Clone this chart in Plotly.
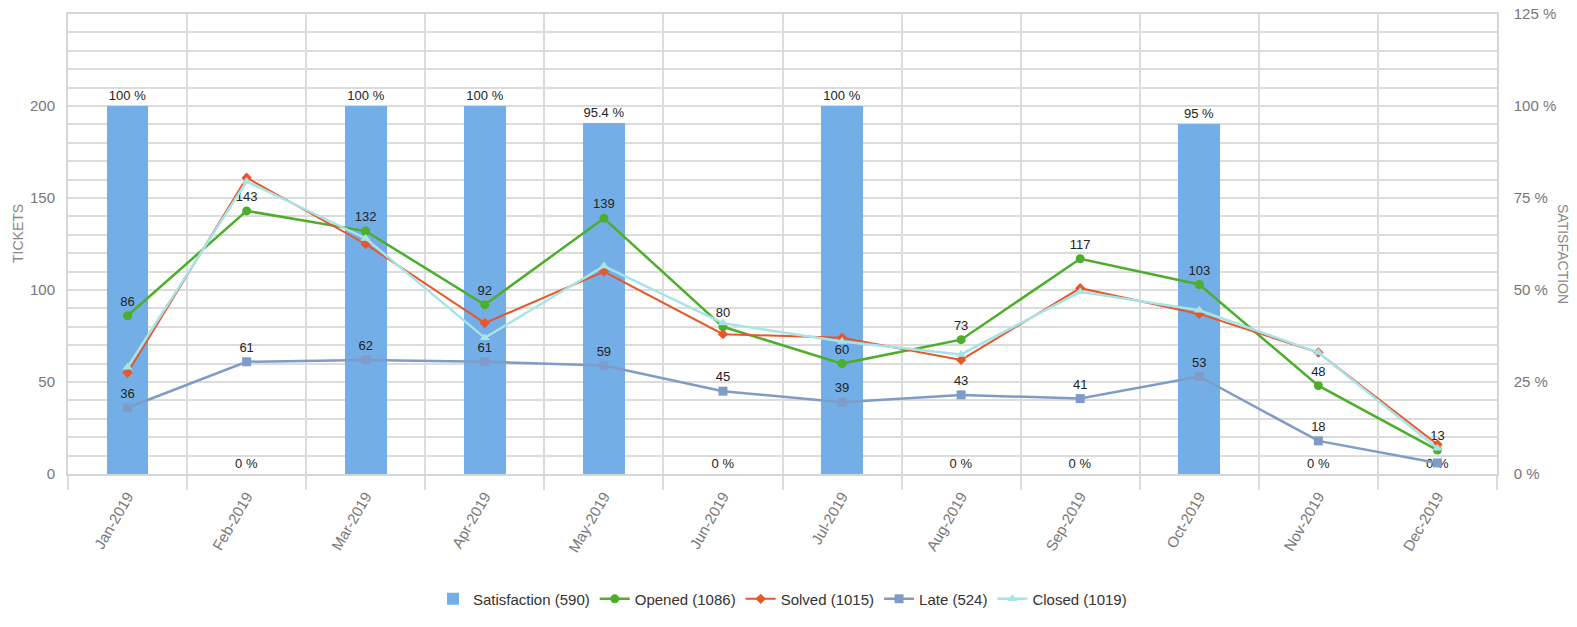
import plotly.graph_objects as go

months = ["Jan-2019", "Feb-2019", "Mar-2019", "Apr-2019", "May-2019", "Jun-2019",
          "Jul-2019", "Aug-2019", "Sep-2019", "Oct-2019", "Nov-2019", "Dec-2019"]
satisfaction = [100, 0, 100, 100, 95.4, 0, 100, 0, 0, 95, 0, 0]
opened = [86, 143, 132, 92, 139, 80, 60, 73, 117, 103, 48, 13]
solved = [55, 161, 125, 82, 110, 76, 74, 62, 101, 87, 66, 16]
late = [36, 61, 62, 61, 59, 45, 39, 43, 41, 53, 18, 6]
closed = [58, 159, 128, 74, 113, 82, 72, 65, 99, 89, 66, 14]
ticket_ticks = [0, 50, 100, 150, 200]
pct_ticks = [0, 25, 50, 75, 100, 125]

FONT = "Liberation Sans, Arial, sans-serif"
LBL = dict(family=FONT, size=13, color="#222222")
x = list(range(len(months)))

fig = go.Figure()
# Satisfaction bars on the primary (right, %) axis so that ticket lines draw on top
fig.add_trace(go.Bar(
    x=x, y=satisfaction, yaxis="y", width=0.35,
    name=f"Satisfaction ({round(sum(satisfaction))})",
    marker=dict(color="#74AEE6", line=dict(width=0)),
    text=[f"{v:g} %" for v in satisfaction], textposition="outside",
    textfont=LBL, cliponaxis=False,
))
fig.add_trace(go.Scatter(
    x=x, y=opened, yaxis="y2", mode="lines+markers+text", name=f"Opened ({sum(opened)})",
    line=dict(color="#4DAE2C", width=2.5), marker=dict(symbol="circle", size=9),
    text=[str(v) for v in opened], textposition="top center",
    textfont=LBL, cliponaxis=False,
))
fig.add_trace(go.Scatter(
    x=x, y=solved, yaxis="y2", mode="lines+markers", name=f"Solved ({sum(solved)})",
    line=dict(color="#E8562A", width=2), marker=dict(symbol="diamond", size=8),
))
fig.add_trace(go.Scatter(
    x=x, y=late, yaxis="y2", mode="lines+markers+text", name=f"Late ({sum(late)})",
    line=dict(color="#7F9CC8", width=2.5), marker=dict(symbol="square", size=9),
    text=[str(v) for v in late[:-1]] + [""], textposition="top center",
    textfont=LBL, cliponaxis=False,
))
fig.add_trace(go.Scatter(
    x=x, y=closed, yaxis="y2", mode="lines+markers", name=f"Closed ({sum(closed)})",
    line=dict(color="#A6E4E6", width=2.5), marker=dict(symbol="triangle-up", size=9),
))

fig.update_layout(
    width=1577, height=627, autosize=False,
    margin=dict(l=68, r=80, t=14, b=147),
    paper_bgcolor="white", plot_bgcolor="white",
    font=dict(family=FONT, size=14, color="#777777"),
    showlegend=True, bargap=0,
    legend=dict(orientation="h", x=0.5, xanchor="center", y=-0.272, yanchor="middle",
                font=dict(family=FONT, size=15, color="#333333"),
                traceorder="normal"),
    xaxis=dict(
        range=[-0.5, 11.5], tickmode="array", tickvals=x, ticktext=months,
        tickangle=-60, showgrid=False, ticks="", zeroline=False, automargin=False,
        showline=True, linecolor="#D6D6D6", linewidth=1.5, mirror=True,
        ticklabelstandoff=6,
        tickfont=dict(family=FONT, size=15, color="#777777"),
        minor=dict(tick0=0.5, dtick=1, showgrid=True, gridcolor="#DCDCDC", gridwidth=1.5,
                   ticks="outside", ticklen=14, tickcolor="#DCDCDC", tickwidth=1.5),
    ),
    yaxis=dict(
        range=[0, 125], tickmode="array", tickvals=pct_ticks,
        ticktext=[f"{v} %" for v in pct_ticks], side="right",
        showgrid=True, gridcolor="#DCDCDC", gridwidth=2, zeroline=False, automargin=False,
        showline=True, linecolor="#D6D6D6", linewidth=1.5, mirror=True,
        ticklabelstandoff=12,
        tickfont=dict(family=FONT, size=15, color="#777777"),
        minor=dict(dtick=5, showgrid=True, gridcolor="#DCDCDC", gridwidth=2),
    ),
    yaxis2=dict(
        range=[0, 250], tickmode="array", tickvals=ticket_ticks,
        overlaying="y", side="left", showgrid=False, zeroline=False, automargin=False,
        ticklabelstandoff=12,
        tickfont=dict(family=FONT, size=15, color="#777777"),
    ),
    annotations=[
        dict(text="SATISFACTION", textangle=90, xref="paper", yref="paper",
             x=1.0, xanchor="center", yanchor="middle", xshift=66, y=0.5, yshift=-10,
             showarrow=False, font=dict(family=FONT, size=14, color="#888888")),
        dict(text="TICKETS", textangle=-90, xref="paper", yref="paper",
             x=0.0, xanchor="center", yanchor="middle", xshift=-50, y=0.5, yshift=10,
             showarrow=False, font=dict(family=FONT, size=14, color="#888888")),
    ],
)

fig.write_html("out.html", config={"displayModeBar": False},
               post_script="document.body.style.margin='0';")
